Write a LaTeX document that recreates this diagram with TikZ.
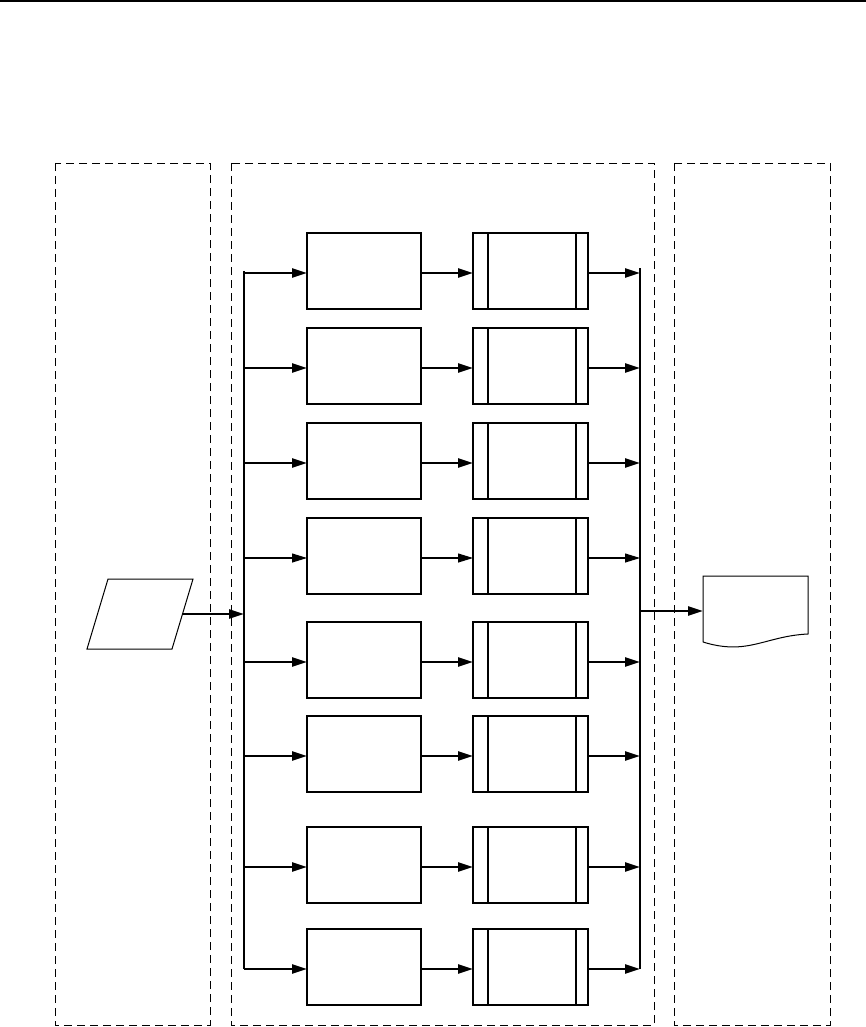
\documentclass[tikz,border=0pt]{standalone}
\usetikzlibrary{arrows.meta}
\begin{document}
\begin{tikzpicture}[x=1pt,y=-1pt,
  lane/.style={draw,dash pattern=on 8pt off 5pt,line width=0.9pt},
  procbox/.style={draw,rectangle,line width=1.1pt,minimum width=114pt,minimum height=76pt,inner sep=0pt,outer sep=0pt},
  predbox/.style={draw,rectangle,line width=1.1pt,minimum width=115pt,minimum height=76pt,inner sep=0pt,outer sep=0pt},
  bus/.style={line width=2.6pt},
  arr/.style={line width=2.5pt,-{Triangle[length=15pt,width=9pt]}},
  tarr/.style={line width=1.1pt,-{Triangle[length=15pt,width=9pt]}},
  shapeline/.style={line width=1pt}
]
\useasboundingbox (0,0) rectangle (866,1027);
% top rule
\coordinate (tl) at (0,1);
\coordinate (tr) at (866,1);
\draw[line width=2.4pt] (tl) -- (tr);
% lanes
\draw[lane] (55,163) rectangle (210,1025);
\draw[lane] (231,163) rectangle (654,1025);
\draw[lane] (674,163) rectangle (830,1025);
% rows
\foreach \i/\y in {1/271,2/366,3/461,4/556,5/660,6/754,7/865,8/967}{
  \node[procbox] (a\i) at (364,\y) {};
  \node[predbox] (b\i) at (530.5,\y) {};
  \draw[line width=1.1pt] ([xshift=15pt]b\i.north west) -- ([xshift=15pt]b\i.south west);
  \draw[line width=1.1pt] ([xshift=-12pt]b\i.north east) -- ([xshift=-12pt]b\i.south east);
}
% buses
\coordinate (lt) at (244,271);
\coordinate (lb) at (244,969);
\coordinate (rt) at (640,268);
\coordinate (rb) at (640,969);
\draw[bus] (lt) -- (lb);
\draw[bus] (rt) -- (rb);
% arrows
\foreach \i in {1,2,3,5,6,7,8}{
  \draw[arr] ([yshift=-2pt]a\i.west -| lt) -- ([yshift=-2pt]a\i.west);
  \draw[arr] ([yshift=-2pt]a\i.east) -- ([yshift=-2pt]b\i.west);
  \draw[arr] ([yshift=-2pt]b\i.east) -- ([yshift=-2pt]b\i.east -| rt);
}
\draw[tarr] ([yshift=-2pt]a4.west -| lt) -- ([yshift=-2pt]a4.west);
\draw[tarr] ([yshift=-2pt]a4.east) -- ([yshift=-2pt]b4.west);
\draw[tarr] ([yshift=-2pt]b4.east) -- ([yshift=-2pt]b4.east -| rt);
% input parallelogram
\coordinate (p1) at (108,579);
\coordinate (p2) at (193,579);
\coordinate (p3) at (172,649);
\coordinate (p4) at (87,649);
\coordinate (pin) at (182.5,614);
\draw[shapeline] (p1) -- (p2) -- (p3) -- (p4) -- cycle;
\draw[arr] (pin) -- (pin -| lt);
% output document
\coordinate (d1) at (703,576);
\coordinate (d2) at (808,576);
\coordinate (d3) at (808,634);
\coordinate (d4) at (703,642);
\coordinate (din) at (703,611);
\draw[shapeline] (d4) -- (d1) -- (d2) -- (d3) .. controls (765,636) and (748,656) .. (d4);
\draw[arr] (din -| rt) -- (din);
\end{tikzpicture}
\end{document}
